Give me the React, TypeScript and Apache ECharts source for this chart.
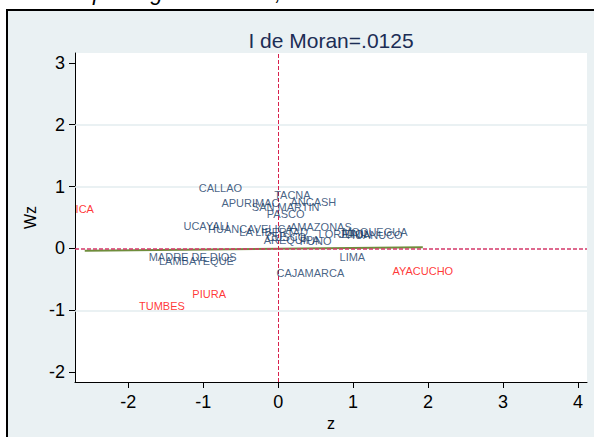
import React, { useEffect, useRef } from "react";
import * as echarts from "echarts";

const regions = [
  "CALLAO", "TACNA", "ANCASH", "APURIMAC", "SAN MARTIN", "PASCO", "UCAYALI",
  "HUANCAVELICA", "LA LIBERTAD", "AMAZONAS", "LORETO", "JUNIN", "MOQUEGUA",
  "HUANUCO", "AREQUIPA", "CUSCO", "PUNO", "MADRE DE DIOS", "LAMBAYEQUE",
  "LIMA", "CAJAMARCA", "AYACUCHO", "PIURA", "TUMBES", "ICA",
];
const zValues = [
  -0.77, 0.19, 0.47, -0.37, 0.1, 0.1, -0.96,
  -0.37, -0.06, 0.57, 0.84, 1.03, 1.29,
  1.29, 0.18, 0.11, 0.5, -1.14, -1.09,
  0.99, 0.43, 1.93, -0.92, -1.55, -2.58,
];
const wzValues = [
  0.97, 0.86, 0.75, 0.74, 0.67, 0.56, 0.37,
  0.31, 0.26, 0.34, 0.23, 0.24, 0.27,
  0.21, 0.13, 0.18, 0.12, -0.135, -0.21,
  -0.146, -0.39, -0.36, -0.74, -0.93, 0.64,
];
const highlighted = ["AYACUCHO", "PIURA", "TUMBES", "ICA"];
const fitZ = [-2.58, 1.93];
const fitWz = [-0.037, 0.019];
const xTicks = [-2, -1, 0, 1, 2, 3, 4];
const yTicks = [-2, -1, 0, 1, 2, 3];
const yGrid = [-1, 1, 2];
const subtitle = "I de Moran=.0125";
const titleLeft = "Diagrama de Moran del PBI real";
const titleRight = "por region de Peru, 2007";

const FONT = '"Liberation Sans", Arial, Helvetica, sans-serif';

export default function App() {
  const ref = useRef<HTMLDivElement>(null);
  useEffect(() => {
    if (!ref.current) return;
    const chart = echarts.init(ref.current, null, { renderer: "svg" });
    const option: any = {
      animation: false,
      backgroundColor: "transparent",
      grid: {
        left: 75, top: 53, right: 7, bottom: 55,
        outerBoundsMode: "none", containLabel: false,
        show: true, backgroundColor: "#ffffff", borderWidth: 0,
      },
      xAxis: {
        type: "value", min: -2.71, max: 4.12,
        axisLine: { show: true, onZero: false, lineStyle: { color: "#000", width: 1 } },
        axisTick: { show: true, length: 6, customValues: xTicks, lineStyle: { color: "#000" } },
        axisLabel: { customValues: xTicks, fontSize: 18, color: "#000", margin: 11, fontFamily: FONT },
        splitLine: { show: false },
        name: "z", nameLocation: "middle", nameGap: 33,
        nameTextStyle: { fontSize: 16, color: "#000", fontFamily: FONT },
      },
      yAxis: {
        type: "value", min: -2.16, max: 3.16,
        axisLine: { show: true, onZero: false, lineStyle: { color: "#000", width: 1 } },
        axisTick: { show: true, length: 6, customValues: yTicks, lineStyle: { color: "#000" } },
        axisLabel: { customValues: yTicks, fontSize: 18, color: "#000", margin: 10, fontFamily: FONT },
        splitLine: { show: false },
        name: "Wz", nameLocation: "middle", nameGap: 33, nameRotate: 90,
        nameTextStyle: { fontSize: 16, color: "#000", fontFamily: FONT },
      },
      graphic: [
        {
          type: "text", x: 331, y: 40, z: 10,
          style: { text: subtitle, fontSize: 21, fill: "#1c2d55", fontFamily: FONT, align: "center", verticalAlign: "middle" },
        },
        {
          type: "text", x: 90, y: -8,
          style: { text: titleLeft, fontSize: 22, fontStyle: "italic", fill: "#000", fontFamily: FONT, align: "right", verticalAlign: "middle" },
        },
        {
          type: "text", x: 93, y: -8,
          style: { text: titleRight, fontSize: 22, fontStyle: "italic", fill: "#000", fontFamily: FONT, align: "left", verticalAlign: "middle" },
        },
      ],
      series: [
        {
          type: "line", data: [], silent: true, z: 1,
          markLine: {
            silent: true, symbol: ["none", "none"], label: { show: false },
            lineStyle: { color: "#e3ecef", width: 1.5, type: "solid" },
            data: yGrid.map((v) => ({ yAxis: v })),
          },
        },
        {
          type: "line", symbol: "none", silent: true, z: 3,
          data: fitZ.map((z, i) => [z, fitWz[i]]),
          lineStyle: { color: "#6f8d3c", width: 2 },
        },
        {
          type: "line", data: [], silent: true, z: 4,
          markLine: {
            silent: true, symbol: ["none", "none"], label: { show: false },
            data: [
              { xAxis: 0, lineStyle: { color: "#d8214d", width: 1, type: [4, 2] } },
              { yAxis: 0, lineStyle: { color: "#d3386a", width: 1.6, type: [4, 2] } },
            ],
          },
        },
        {
          type: "scatter", symbolSize: 1, silent: true, z: 5,
          itemStyle: { color: "rgba(0,0,0,0)" },
          label: { show: true, position: "inside", formatter: "{b}", fontSize: 11, fontFamily: FONT },
          data: regions.map((r, i) => ({
            name: r,
            value: [zValues[i], wzValues[i]],
            label: { color: highlighted.includes(r) ? "#ff0000" : "#163a66" },
          })),
        },
      ],
    };
    chart.setOption(option);
    return () => chart.dispose();
  }, []);

  return (
    <div style={{ position: "fixed", left: 0, top: 0, width: 594, height: 437, background: "#fff", overflow: "hidden" }}>
      <div style={{ position: "absolute", left: 6, top: 9, width: 620, height: 460, border: "2px solid #000", background: "#eaf1f3" }} />
      <div ref={ref} style={{ position: "absolute", left: 0, top: 0, width: 594, height: 437 }} />
    </div>
  );
}
